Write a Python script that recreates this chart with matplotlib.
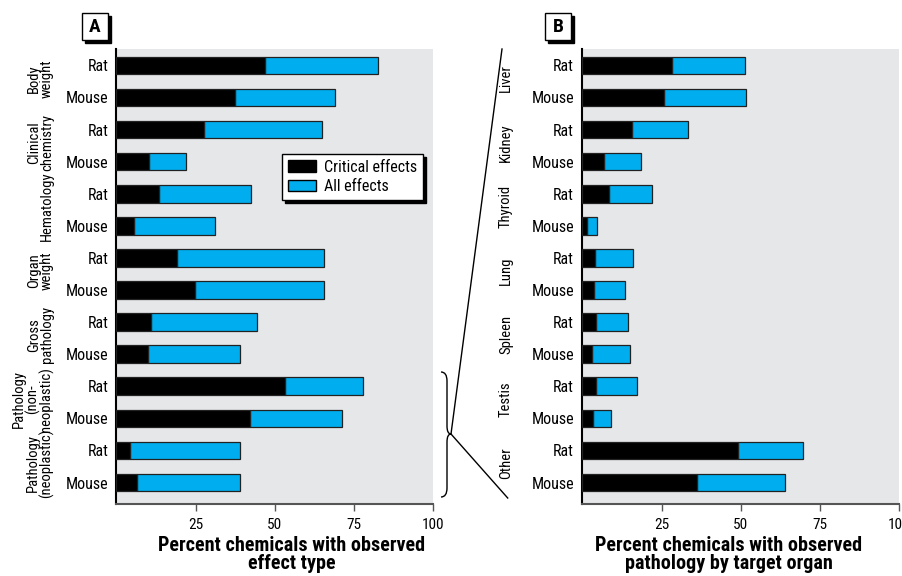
import matplotlib
matplotlib.use("Agg")
import matplotlib.pyplot as plt
from matplotlib import font_manager
from matplotlib.patches import Rectangle, PathPatch, Patch
from matplotlib.path import Path
from matplotlib.lines import Line2D
import matplotlib.transforms as mtransforms

# ---------------- data ----------------
species = ["Rat", "Mouse"] * 7

groups_a = ["Body\nweight", "Clinical\nchemistry", "Hematology", "Organ\nweight",
            "Gross\npathology", "Pathology\n(non-\nneoplastic)", "Pathology\n(neoplastic)"]
critical_a = [46.8, 37.4, 27.6, 10.2, 13.4, 5.5, 19.1, 24.8, 10.9, 9.9, 53.2, 42.1, 4.3, 6.5]
all_a = [82.5, 68.9, 64.8, 21.9, 42.4, 31.1, 65.5, 65.5, 44.3, 39.0, 77.8, 71.1, 39.0, 39.0]

groups_b = ["Liver", "Kidney", "Thyroid", "Lung", "Spleen", "Testis", "Other"]
critical_b = [28.4, 25.7, 15.7, 6.9, 8.5, 1.6, 4.1, 3.6, 4.3, 3.0, 4.3, 3.3, 49.2, 36.2]
all_b = [51.3, 51.5, 33.4, 18.5, 21.9, 4.5, 16.1, 13.4, 14.3, 14.9, 17.1, 8.9, 69.7, 64.0]

xticks = [25, 50, 75, 100]
xlabel_a = "Percent chemicals with observed\neffect type"
xlabel_b = "Percent chemicals with observed\npathology by target organ"
legend_labels = ["Critical effects", "All effects"]

# ---------------- style ----------------
avail = {f.name for f in font_manager.fontManager.ttflist}
family = "DejaVu Sans"
for cand in ["Liberation Sans Narrow", "Roboto Condensed", "Open Sans Condensed"]:
    if cand in avail:
        family = cand
        break
plt.rcParams["font.family"] = [family, "DejaVu Sans"]

BLUE = "#00aeef"
GRAY_BG = "#e6e7e8"
W, H = 903, 576

fig = plt.figure(figsize=(W / 100, H / 100), dpi=100)


def px(x0, y0, x1, y1):
    """left, bottom, width, height in figure fraction from pixel box"""
    return [x0 / W, 1 - y1 / H, (x1 - x0) / W, (y1 - y0) / H]


ax_a = fig.add_axes(px(116.5, 49, 433.3, 504))
ax_b = fig.add_axes(px(582.3, 49, 899.3, 504))


def draw_panel(ax, crit, tot, groups, group_x):
    n = len(crit)
    ypos = list(range(n))
    ax.set_facecolor(GRAY_BG)
    blue_w = [t - c for t, c in zip(tot, crit)]
    ax.barh(ypos, blue_w, left=crit, height=0.55, color=BLUE,
            edgecolor="#222222", linewidth=0.9, zorder=2)
    ax.barh(ypos, crit, left=0, height=0.55, color="black",
            edgecolor="#222222", linewidth=0.9, zorder=3)
    ax.set_xlim(0, 100)
    ax.set_ylim(n - 1 + 0.67, -0.51)
    ax.set_yticks(ypos)
    ax.set_yticklabels(species, fontsize=11.5)
    ax.tick_params(axis="y", length=0, pad=6)
    ax.set_xticks(xticks)
    ax.set_xticklabels([str(t) for t in xticks], fontsize=11)
    ax.tick_params(axis="x", length=5, width=1, color="#555555", pad=5, direction="out")
    for s in ["top", "right"]:
        ax.spines[s].set_visible(False)
    ax.spines["left"].set_color("black")
    ax.spines["left"].set_linewidth(1.5)
    ax.spines["bottom"].set_color("#555555")
    ax.spines["bottom"].set_linewidth(1.5)
    trans = mtransforms.blended_transform_factory(ax.transAxes, ax.transData)
    for i, g in enumerate(groups):
        ax.text(group_x, 2 * i + 0.4, g, transform=trans, rotation=90,
                ha="right", va="center", multialignment="center",
                fontsize=10.5, linespacing=0.88)


draw_panel(ax_a, critical_a, all_a, groups_a, (54 - 116.5) / 317)
draw_panel(ax_b, critical_b, all_b, groups_b, (513 - 582.3) / 317)

# legend
handles = [Patch(facecolor="black", edgecolor="black"),
           Patch(facecolor=BLUE, edgecolor="black")]
leg = ax_a.legend(handles, legend_labels, loc="upper right",
                  bbox_to_anchor=((423 - 116.5) / 316.8, (504 - 154) / 455),
                  fontsize=11.5, frameon=True, fancybox=False, framealpha=1,
                  edgecolor="black", shadow={"color": "black", "alpha": 1},
                  handlelength=1.8, handleheight=0.7, handletextpad=0.5,
                  borderpad=0.35, labelspacing=0.3, borderaxespad=0)
leg.get_frame().set_linewidth(1.0)

# x labels
fig.text(292 / W, 1 - 536 / H, xlabel_a, ha="center", va="top", fontsize=14.5,
         fontweight="bold", linespacing=0.95)
fig.text(729 / W, 1 - 536 / H, xlabel_b, ha="center", va="top", fontsize=14.5,
         fontweight="bold", linespacing=0.95)


# panel letters
def panel_letter(x0, y0, x1, y1, letter):
    fig.add_artist(Rectangle((x0 / W + 3 / W, 1 - (y1 + 3) / H), (x1 - x0) / W, (y1 - y0) / H,
                             transform=fig.transFigure, facecolor="black", edgecolor="black"))
    fig.add_artist(Rectangle((x0 / W, 1 - y1 / H), (x1 - x0) / W, (y1 - y0) / H,
                             transform=fig.transFigure, facecolor="white", edgecolor="black",
                             linewidth=1.0))
    fig.text((x0 + x1) / 2 / W, 1 - (y0 + y1) / 2 / H, letter, ha="center", va="center",
             fontsize=14, fontweight="bold")


panel_letter(82, 13, 108, 40, "A")
panel_letter(545, 13, 571, 40, "B")


# brace and connector lines (pixel coordinates)
def P(x, y):
    return (x / W, 1 - y / H)


verts = [P(441, 372), P(447, 372), P(447, 381), P(447, 426), P(447, 434), P(451, 434),
         P(447, 434), P(447, 442), P(447, 488), P(447, 497), P(441, 497)]
codes = [Path.MOVETO, Path.CURVE3, Path.CURVE3, Path.LINETO, Path.CURVE3, Path.CURVE3,
         Path.CURVE3, Path.CURVE3, Path.LINETO, Path.CURVE3, Path.CURVE3]
fig.add_artist(PathPatch(Path(verts, codes), transform=fig.transFigure, facecolor="none",
                         edgecolor="black", linewidth=1.0))
for end in [(502, 49), (507.7, 498)]:
    (x0, y0), (x1, y1) = P(451, 434), P(*end)
    fig.add_artist(Line2D([x0, x1], [y0, y1], transform=fig.transFigure, color="black",
                          linewidth=1.0))

fig.savefig("out.png", dpi=100)
